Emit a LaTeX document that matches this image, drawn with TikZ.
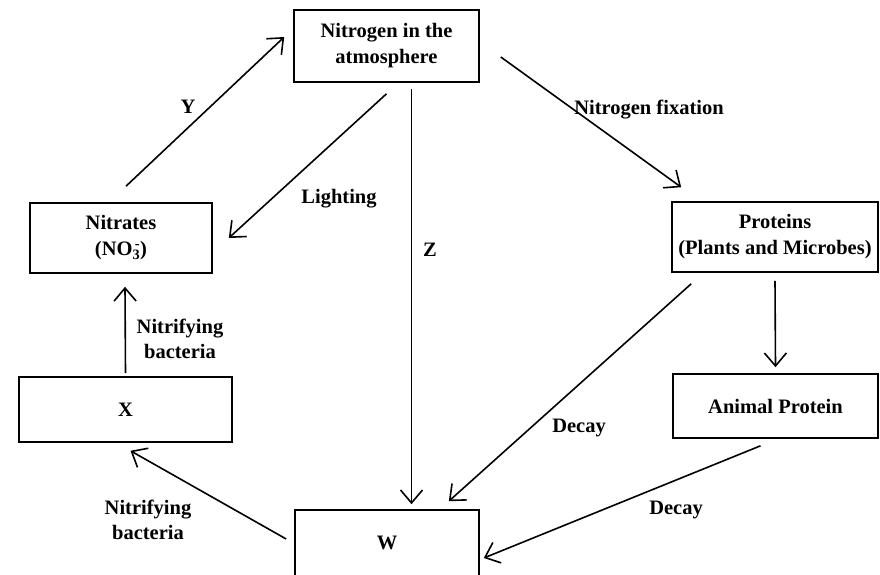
\documentclass[tikz,border=0pt]{standalone}
\usepackage{fontspec}
\setmainfont{Liberation Serif}
\usetikzlibrary{arrows.meta}
\begin{document}
\begin{tikzpicture}[x=1pt,y=-1pt,
  box/.style={draw, line width=1.6pt, rectangle, inner sep=0pt, align=center,
    font=\bfseries\fontsize{20.5}{26}\selectfont},
  lbl/.style={inner sep=0pt, align=center, font=\bfseries\fontsize{20.5}{25}\selectfont},
  arr/.style={line width=1.6pt, -{Straight Barb[length=13pt,width=22pt,line width=1.6pt]}}]
\useasboundingbox (0,0) rectangle (880,574);
\clip (0,0) rectangle (880,574);
% boxes
\node[box, minimum width=185pt, minimum height=72pt] (N) at (386.5,46) {Nitrogen in the\\atmosphere};
\node[box, minimum width=182pt, minimum height=70pt] (Nit) at (121,238) {Nitrates\\(NO\rlap{\textsuperscript{\,-}}\textsubscript{3})};
\node[box, minimum width=213pt, minimum height=65pt] (X) at (125.5,409.5) {X};
\node[box, minimum width=206pt, minimum height=70pt] (P) at (775,237) {Proteins\\(Plants and Microbes)};
\node[box, minimum width=205pt, minimum height=64pt] (A) at (775.5,406) {Animal Protein};
\node[box, minimum width=184pt, minimum height=70pt] (W) at (387,545) {\raisebox{5pt}{W}};
% arrows
\draw[arr] ([xshift=5pt,yshift=16pt]Nit.north) -- ([xshift=-9pt,yshift=9pt]N.west);
\draw[arr] ([yshift=-11pt]N.south) -- ([xshift=16pt]Nit.east);
\draw[arr] ([xshift=25pt,yshift=-6pt]N.south) -- ([xshift=24.5pt,yshift=5pt]W.north);
\draw[arr] ([xshift=21pt,yshift=-11pt]N.east) -- ([xshift=10pt,yshift=14pt]P.north west);
\draw[arr] ([xshift=20pt,yshift=-11pt]P.south west) -- ([xshift=-31pt,yshift=8pt]W.north east);
\draw[arr] ([yshift=-8pt]P.south) -- ([yshift=6pt]A.north);
\draw[arr] ([xshift=-15pt,yshift=-7pt]A.south) -- ([xshift=4pt,yshift=-13pt]W.east);
\draw[arr] ([yshift=3pt]X.north) -- ([xshift=4pt,yshift=-13pt]Nit.south);
\draw[arr] ([xshift=-8pt,yshift=6pt]W.west) -- ([xshift=5pt,yshift=-8pt]X.south);
% labels
\node[lbl] (lY) at (188,107) {Y};
\node[lbl] (lL) at (339,199) {Lighting};
\node[lbl] (lZ) at (430,250) {Z};
\node[lbl] (lF) at (649,110) {Nitrogen fixation};
\node[lbl] (lD1) at (579,428) {Decay};
\node[lbl] (lD2) at (676,510) {Decay};
\node[lbl] (lB1) at (180,339) {Nitrifying\\bacteria};
\node[lbl] (lB2) at (148,520) {Nitrifying\\bacteria};
\end{tikzpicture}
\end{document}
